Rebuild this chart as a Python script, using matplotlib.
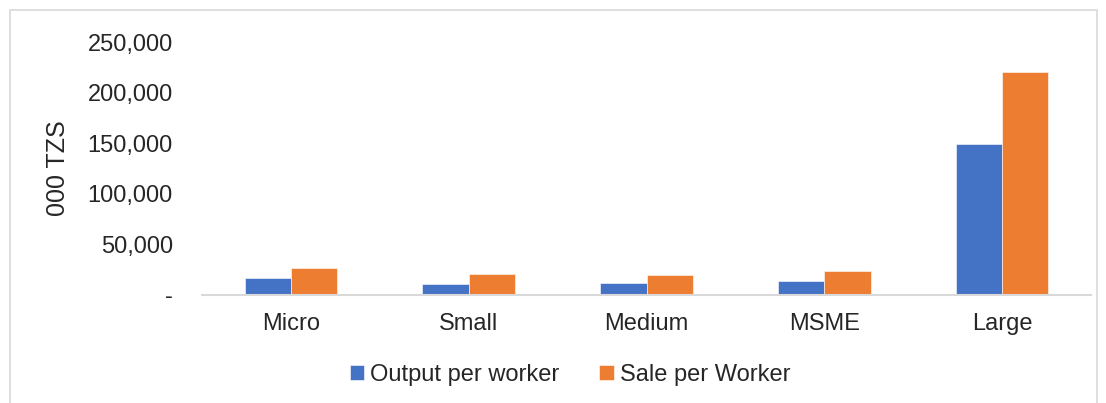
import matplotlib
matplotlib.use("Agg")
import matplotlib.pyplot as plt
import numpy as np
from matplotlib.ticker import FuncFormatter
from matplotlib.patches import Rectangle

plt.rcParams['font.family'] = ['Liberation Sans', 'DejaVu Sans']

categories = ["Micro", "Small", "Medium", "MSME", "Large"]
output_per_worker = [16500, 10900, 11900, 13800, 149500]
sale_per_worker = [26700, 20500, 19500, 24000, 220500]
series_names = ["Output per worker", "Sale per Worker"]
colors = ["#4472C4", "#ED7D31"]

fig = plt.figure(figsize=(11.06, 4.03), dpi=100)
# outer chart border
fig.patches.append(Rectangle((10/1106, -0.05), (1097-10)/1106, 1.05 - 10/403,
                             transform=fig.transFigure, fill=False,
                             edgecolor="#d9d9d9", linewidth=1.2))
ax = fig.add_axes([202/1106, 1-295/403, (1091-202)/1106, (295-42)/403])

x = np.arange(len(categories))
w = 0.26
ax.bar(x - w/2, output_per_worker, w, color=colors[0], label=series_names[0],
       edgecolor="white", linewidth=0.4)
ax.bar(x + w/2, sale_per_worker, w, color=colors[1], label=series_names[1],
       edgecolor="white", linewidth=0.4)

ax.set_xlim(-0.5, len(categories) - 0.5)
ax.set_ylim(0, 250000)
ax.set_yticks(np.arange(0, 250001, 50000))
ax.yaxis.set_major_formatter(FuncFormatter(lambda v, p: "-" if v == 0 else f"{int(v):,}"))
ax.set_xticks(x)
ax.set_xticklabels(categories)

for s in ["top", "right", "left"]:
    ax.spines[s].set_visible(False)
ax.spines["bottom"].set_color("#d9d9d9")
ax.spines["bottom"].set_linewidth(1.5)
ax.tick_params(axis="both", length=0, labelsize=17, colors="#262626")
ax.tick_params(axis="y", pad=21)
ax.tick_params(axis="x", pad=13)
ax.set_ylabel("000 TZS", fontsize=18, color="#262626")
ax.yaxis.set_label_coords(-0.1485, 0.5)

fig.legend(loc="center", bbox_to_anchor=(570/1106, 1-375/403), ncol=2, frameon=False,
           fontsize=17, handlelength=0.6, handleheight=0.6, handletextpad=0.25,
           columnspacing=1.7, labelcolor="#262626")

fig.savefig("out.png", dpi=100)
